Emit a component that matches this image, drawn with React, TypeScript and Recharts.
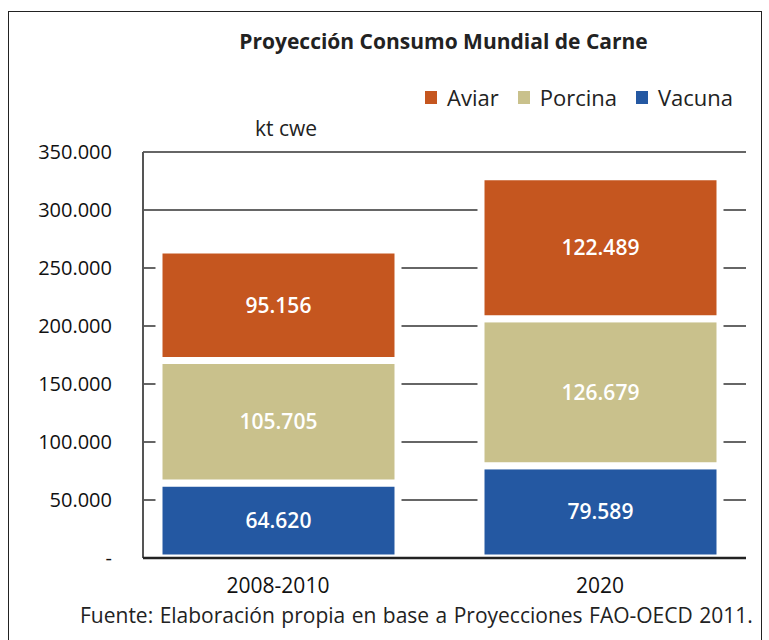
import React from "react";
import {
  BarChart,
  Bar,
  XAxis,
  YAxis,
  CartesianGrid,
  LabelList,
} from "recharts";

const periods = ["2008-2010", "2020"];
const vacuna = [64620, 79589];
const porcina = [105705, 126679];
const aviar = [95156, 122489];
const yTicks = [0, 50000, 100000, 150000, 200000, 250000, 300000, 350000];
const legendNames = ["Aviar", "Porcina", "Vacuna"];

const COLORS: Record<string, string> = {
  Aviar: "#c5561f",
  Porcina: "#c9c18c",
  Vacuna: "#2458a2",
};

const FONT = "'Open Sans', 'Noto Sans', sans-serif";

const data = periods.map((p, i) => ({
  period: p,
  Vacuna: vacuna[i],
  Porcina: porcina[i],
  Aviar: aviar[i],
}));

const fmt = (v: any) => Number(v).toLocaleString("de-DE");
const fmtTick = (v: number) => (v === 0 ? "-" : fmt(v));

export default function App() {
  return (
    <div
      style={{
        position: "fixed",
        left: 0,
        top: 0,
        width: 769,
        height: 640,
        overflow: "hidden",
        background: "#fff",
        fontFamily: FONT,
        color: "#222",
      }}
    >
      <div
        style={{
          position: "absolute",
          left: 8,
          top: 11,
          width: 752,
          height: 660,
          border: "1.5px solid #222",
        }}
      />
      <div
        style={{
          position: "absolute",
          left: 0,
          width: 769,
          top: 27,
          textAlign: "center",
          fontSize: 21,
          fontWeight: 700,
          paddingLeft: 118,
          boxSizing: "border-box",
        }}
      >
        Proyección Consumo Mundial de Carne
      </div>
      {/* legend */}
      <div
        style={{
          position: "absolute",
          left: 425,
          top: 82,
          display: "flex",
          gap: 19,
          fontSize: 22,
        }}
      >
        {legendNames.map((n) => (
          <span key={n} style={{ display: "flex", alignItems: "center" }}>
            <span
              style={{
                width: 12,
                height: 13,
                background: COLORS[n],
                display: "inline-block",
                marginRight: 10,
              }}
            />
            {n}
          </span>
        ))}
      </div>
      <div style={{ position: "absolute", left: 255, top: 114, fontSize: 21 }}>
        kt cwe
      </div>
      <div
        style={{
          position: "absolute",
          left: 80,
          top: 601,
          fontSize: 21,
          wordSpacing: 1,
        }}
      >
        Fuente: Elaboración propia en base a Proyecciones FAO-OECD 2011.
      </div>
      <div style={{ position: "absolute", left: 0, top: 0 }}>
        <BarChart
          width={769}
          height={640}
          data={data}
          margin={{ top: 152, right: 23, bottom: 52, left: 43 }}
          barSize={239}
        >
          <CartesianGrid vertical={false} stroke="#333" strokeWidth={1.6} />
          <YAxis
            width={100}
            domain={[0, 350000]}
            ticks={yTicks}
            tickFormatter={fmtTick}
            tickLine={false}
            tickSize={8}
            tickMargin={23}
            axisLine={{ stroke: "#555", strokeWidth: 2 }}
            tick={{ fill: "#111", fontSize: 20, fontFamily: FONT }}
            interval={0}
          />
          <XAxis
            dataKey="period"
            height={30}
            padding={{ left: -26, right: -15 }}
            tickLine={false}
            axisLine={{ stroke: "#222", strokeWidth: 2.5 }}
            tick={{ fill: "#111", fontSize: 21, fontFamily: FONT }}
            tickMargin={14}
          />
          <Bar dataKey="Vacuna" stackId="a" fill={COLORS.Vacuna} stroke="#fff" strokeWidth={7} isAnimationActive={false}>
            <LabelList dataKey="Vacuna" position="center" formatter={fmt} fill="#fff" fontSize={21} fontWeight={600} fontFamily={FONT} />
          </Bar>
          <Bar dataKey="Porcina" stackId="a" fill={COLORS.Porcina} stroke="#fff" strokeWidth={7} isAnimationActive={false}>
            <LabelList dataKey="Porcina" position="center" formatter={fmt} fill="#fff" fontSize={21} fontWeight={600} fontFamily={FONT} />
          </Bar>
          <Bar dataKey="Aviar" stackId="a" fill={COLORS.Aviar} stroke="#fff" strokeWidth={7} isAnimationActive={false}>
            <LabelList dataKey="Aviar" position="center" formatter={fmt} fill="#fff" fontSize={21} fontWeight={600} fontFamily={FONT} />
          </Bar>
        </BarChart>
      </div>
    </div>
  );
}
